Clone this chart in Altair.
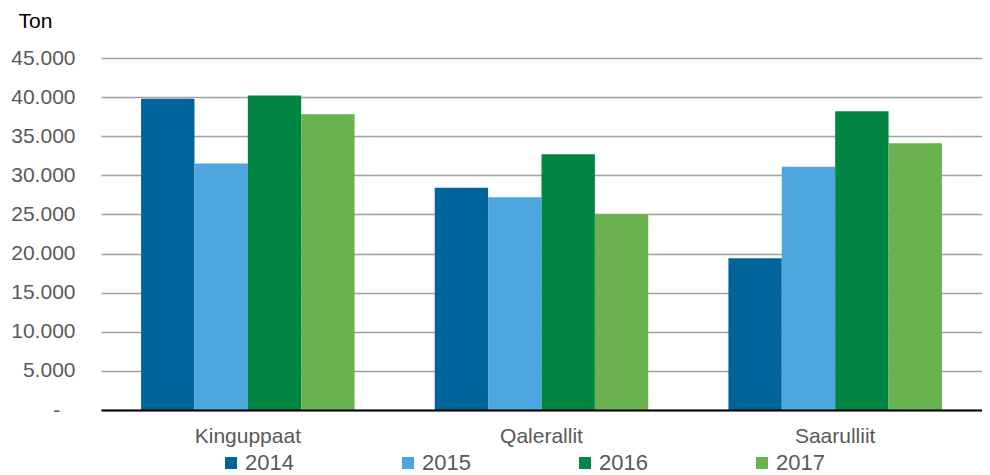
import altair as alt
import pandas as pd

categories = ["Kinguppaat", "Qalerallit", "Saarulliit"]
years = ["2014", "2015", "2016", "2017"]
v2014 = [39800, 28400, 19400]
v2015 = [31500, 27200, 31100]
v2016 = [40200, 32700, 38200]
v2017 = [37800, 25000, 34100]
colors = ["#00639A", "#4DA6DD", "#008542", "#6AB24F"]
y_ticks = [0, 5000, 10000, 15000, 20000, 25000, 30000, 35000, 40000, 45000]

rows = []
for yr, vals in zip(years, [v2014, v2015, v2016, v2017]):
    for c, v in zip(categories, vals):
        rows.append({"category": c, "year": yr, "value": v})
df = pd.DataFrame(rows)

FONT = "Liberation Sans"
label_expr = "datum.value == 0 ? '-\u2800' : replace(format(datum.value, ','), ',', '.')"

chart = alt.Chart(df).mark_bar().encode(
    x=alt.X("category:N", sort=categories,
            scale=alt.Scale(paddingInner=0.273, paddingOuter=0.1365),
            axis=alt.Axis(title=None, labelAngle=0, ticks=False, grid=False,
                          domainColor="#000000", domainWidth=2.2, zindex=1,
                          labelFontSize=21, labelColor="#595959", labelPadding=15,
                          labelFont=FONT)),
    xOffset=alt.XOffset("year:N", sort=years, scale=alt.Scale(paddingInner=0, paddingOuter=0)),
    y=alt.Y("value:Q", scale=alt.Scale(domain=[0, 45000], nice=False),
            axis=alt.Axis(values=y_ticks, labelExpr=label_expr, grid=True,
                          gridColor="#a0a0a0", gridWidth=1.4, domain=False, ticks=False,
                          labelPadding=26,
                          labelFontSize=21, labelColor="#595959",
                          labelFont="Liberation Sans, DejaVu Sans",
                          title="Ton", titleAngle=0, titleAlign="left",
                          titleBaseline="alphabetic", titleX=-83, titleY=-31,
                          titleFontSize=21, titleFontWeight="normal", titleColor="#000000",
                          titleFont=FONT)),
    color=alt.Color("year:N", sort=years,
                    scale=alt.Scale(domain=years, range=colors),
                    legend=alt.Legend(orient="none", legendX=119, legendY=394,
                                      direction="horizontal", title=None,
                                      symbolType="square", symbolSize=144,
                                      symbolStrokeWidth=0, labelFontSize=22,
                                      labelColor="#595959", labelFont=FONT,
                                      columnPadding=103, labelOffset=3, padding=0)),
).properties(
    width=881,
    height=352,
    autosize=alt.AutoSizeParams(type="none"),
    padding={"left": 93, "top": 50, "right": 0, "bottom": 65},
).configure_view(stroke=None)

chart.save("out.html", embed_options={"renderer": "svg", "actions": False})
